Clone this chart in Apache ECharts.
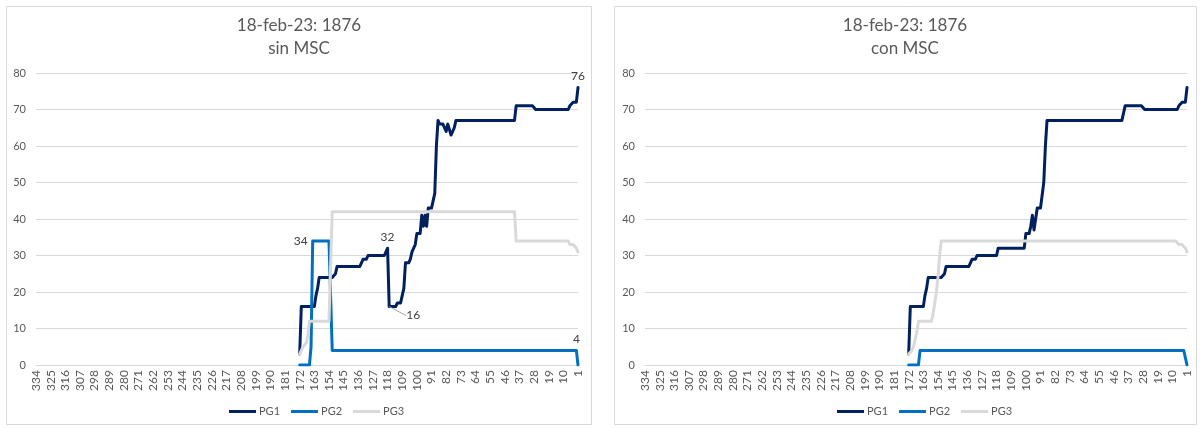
<!DOCTYPE html>
<html>
<head>
<meta charset="utf-8">
<script src="https://cdn.jsdelivr.net/npm/echarts@6/dist/echarts.min.js"></script>
<style>
  html, body { margin: 0; padding: 0; background: #ffffff; }
  #chart { width: 1200px; height: 428px; }
</style>
</head>
<body>
<div id="chart"></div>
<script>
// ---- Data ----
// X axis: day counter running from 334 down to 1
const firstDay = 334;
const lastDay = 1;
const yTicks = [0, 10, 20, 30, 40, 50, 60, 70, 80];
const titles = ['18-feb-23: 1876\nsin MSC', '18-feb-23: 1876\ncon MSC'];
const seriesNames = ['PG1', 'PG2', 'PG3'];

// Step series as runs: [fromDay, toDay, value]
const pg1Sin = [
  [172,172,3],[171,163,16],[162,162,19],[161,161,21],[160,151,24],[150,150,25],
  [149,134,27],[133,131,29],[130,119,30],[118,118,32],[117,113,16],[112,109,17],
  [108,108,21],[107,105,28],[104,104,29],[103,102,31],[101,101,33],[100,98,36],
  [97,97,41],[96,96,38],[95,95,41],[94,94,38],[93,90,43],[89,89,47],[88,88,60],
  [87,87,67],[86,83,66],[82,82,64],[81,80,66],[79,78,63],[77,77,65],[76,40,67],
  [39,28,71],[27,7,70],[6,5,71],[4,2,72],[1,1,76]
];
const pg2Sin = [
  [172,166,0],[165,165,5],[164,153,34],[152,2,4],[1,1,0]
];
const pg3Sin = [
  [172,171,3],[170,169,5],[168,168,6],[167,167,8],[166,153,12],[152,40,42],
  [39,7,34],[6,3,33],[2,2,32],[1,1,31]
];

const pg1Con = [
  [172,172,3],[171,163,16],[162,162,19],[161,161,21],[160,151,24],[150,150,25],
  [149,134,27],[133,131,29],[130,118,30],[117,101,32],[100,98,36],[97,97,38],
  [96,96,41],[95,95,37],[94,94,40],[93,90,43],[89,89,50],[88,88,60],[87,40,67],
  [39,28,71],[27,7,70],[6,5,71],[4,2,72],[1,1,76]
];
const pg2Con = [
  [172,166,0],[165,2,4],[1,1,0]
];
const pg3Con = [
  [172,171,3],[170,170,4],[169,168,5],[167,167,9],[166,158,12],[157,157,14],
  [156,156,17],[155,155,20],[154,154,24],[153,153,30],[152,7,34],[6,3,33],
  [2,2,32],[1,1,31]
];

// ---- Build ----
const categories = [];
for (let d = firstDay; d >= lastDay; d--) categories.push(String(d));
const idxOf = d => firstDay - d;

function expand(segs) {
  const arr = new Array(categories.length).fill(null);
  segs.forEach(([from, to, v]) => {
    for (let d = from; d >= to; d--) arr[idxOf(d)] = v;
  });
  return arr;
}

const FONT = 'Lato';
const colors = ['#002060', '#0070C0', '#D9D9D9'];
const labelStyle = { show: true, color: '#404040', fontSize: 12, fontFamily: FONT };

function withLabel(arr, day, extra, guide) {
  const i = idxOf(day);
  arr[i] = {
    value: arr[i],
    label: Object.assign({}, labelStyle, extra),
    labelLine: { show: !!guide, lineStyle: { color: '#a6a6a6', width: 1 } }
  };
}

const d1s = expand(pg1Sin), d2s = expand(pg2Sin), d3s = expand(pg3Sin);
const d1c = expand(pg1Con), d2c = expand(pg2Con), d3c = expand(pg3Con);
withLabel(d1s, 1, { position: 'top', offset: [-6, 1] });
withLabel(d1s, 118, { position: 'top', offset: [-2, 1] });
withLabel(d1s, 117, { position: 'right' }, true);
withLabel(d2s, 164, { position: 'left', offset: [-1, -2] });
withLabel(d2s, 2, { position: 'top', offset: [-2, 7] });

const idx16 = idxOf(117);

function mkSeries(name, data, ci, grid) {
  return {
    name: name,
    type: 'line',
    xAxisIndex: grid, yAxisIndex: grid,
    data: data,
    symbol: 'circle',
    symbolSize: 0,
    showSymbol: true,
    showAllSymbol: true,
    connectNulls: false,
    color: colors[ci],
    lineStyle: { width: 3, color: colors[ci], cap: 'round', join: 'round' },
    itemStyle: { color: colors[ci] },
    emphasis: { disabled: true },
    labelLine: { show: false, lineStyle: { color: '#a6a6a6', width: 1 } },
    labelLayout: function (p) {
      if (grid === 0 && ci === 0 && p.dataIndex === idx16) return { dx: 12, dy: 9 };
      return {};
    },
    animation: false
  };
}

const gridsDef = [
  { left: 36, top: 73, width: 542, height: 292 },
  { left: 645, top: 73, width: 542, height: 292 }
];

function xAxis(g) {
  return {
    type: 'category', gridIndex: g, data: categories, boundaryGap: false,
    axisLine: { show: true, lineStyle: { color: '#D9D9D9', width: 1 } },
    axisTick: { show: false },
    axisLabel: { interval: 8, rotate: 90, color: '#595959', fontSize: 12, fontFamily: FONT, margin: 5 },
    splitLine: { show: false }
  };
}
function yAxis(g) {
  return {
    type: 'value', gridIndex: g, min: yTicks[0], max: yTicks[yTicks.length - 1], interval: 10,
    axisLine: { show: false }, axisTick: { show: false },
    axisLabel: { color: '#595959', fontSize: 11, fontFamily: FONT, margin: 10 },
    splitLine: { lineStyle: { color: '#D9D9D9', width: 1 } }
  };
}
function legend(left) {
  return {
    data: seriesNames, left: left, top: 401, icon: 'rect', itemWidth: 27, itemHeight: 3,
    itemGap: 11, selectedMode: false,
    textStyle: { color: '#595959', fontSize: 11, fontFamily: FONT, padding: [0, 0, 0, -2] }
  };
}

const chart = echarts.init(document.getElementById('chart'), null, { renderer: 'canvas' });
chart.setOption({
  backgroundColor: '#ffffff',
  animation: false,
  textStyle: { fontFamily: FONT },
  graphic: [
    { type: 'rect', shape: { x: 6.5, y: 6.5, width: 585, height: 418 }, style: { fill: 'none', stroke: '#D9D9D9', lineWidth: 1 }, silent: true },
    { type: 'rect', shape: { x: 614.5, y: 6.5, width: 582, height: 418 }, style: { fill: 'none', stroke: '#D9D9D9', lineWidth: 1 }, silent: true },
    { type: 'text', x: 299, y: 14, style: { text: titles[0], textAlign: 'center', textVerticalAlign: 'top', font: '17px Lato', lineHeight: 23, fill: '#595959' }, silent: true },
    { type: 'text', x: 905, y: 14, style: { text: titles[1], textAlign: 'center', textVerticalAlign: 'top', font: '17px Lato', lineHeight: 23, fill: '#595959' }, silent: true }
  ],
  grid: gridsDef,
  xAxis: [xAxis(0), xAxis(1)],
  yAxis: [yAxis(0), yAxis(1)],
  legend: [legend(224), legend(832)],
  series: [
    mkSeries('PG1', d1s, 0, 0), mkSeries('PG2', d2s, 1, 0), mkSeries('PG3', d3s, 2, 0),
    mkSeries('PG1', d1c, 0, 1), mkSeries('PG2', d2c, 1, 1), mkSeries('PG3', d3c, 2, 1)
  ]
});
</script>
</body>
</html>
